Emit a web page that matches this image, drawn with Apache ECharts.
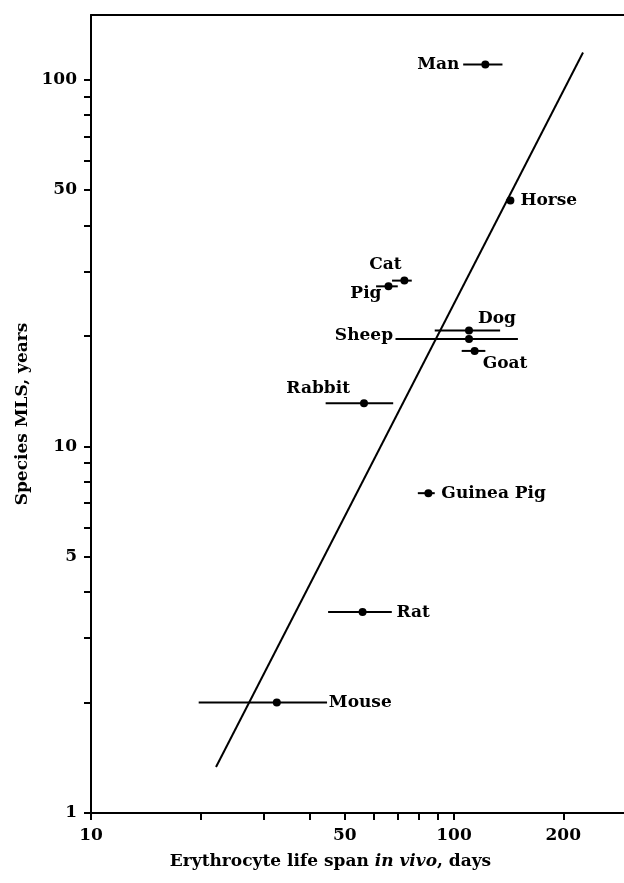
<!DOCTYPE html>
<html>
<head>
<meta charset="utf-8">
<style>
  html, body { margin: 0; padding: 0; background: #fff; overflow: hidden; }
  #chart { width: 624px; height: 883px; }
</style>
<script src="https://cdn.jsdelivr.net/npm/echarts@6/dist/echarts.min.js"></script>
</head>
<body>
<div id="chart"></div>
<script>
// species and their values
const species = ["Man", "Horse", "Cat", "Pig", "Dog", "Sheep", "Goat", "Rabbit", "Guinea Pig", "Rat", "Mouse"];
const lifespanDays = [122, 143, 73, 66, 110, 110, 114, 56.5, 85, 56, 32.5];
const lifespanLow = [106, 139, 67.5, 61, 88.5, 69, 105, 44.3, 79.5, 45, 19.8];
const lifespanHigh = [136, 146, 76.5, 70, 134, 150, 122, 68, 88.5, 67.4, 44.7];
const mlsYears = [110, 46.8, 28.3, 27.3, 20.7, 19.6, 18.2, 13.1, 7.45, 3.53, 2.0];

// regression line end points
const fitLine = [[22.1, 1.335], [226.7, 118.5]];

// axis ticks and labels
const xTicks = [10, 20, 30, 40, 50, 60, 70, 80, 90, 100, 200];
const xLabels = [10, 50, 100, 200];
const yTicks = [1, 2, 3, 4, 5, 6, 7, 8, 9, 10, 20, 30, 40, 50, 60, 70, 80, 90, 100];
const yLabels = [1, 5, 10, 50, 100];

const serif = "DejaVu Serif";

// where each name sits relative to its dot
const labelPos = {
  "Man": { position: "left", distance: 22, offset: [0, 0] },
  "Horse": { position: "right", distance: 6, offset: [0, 0] },
  "Cat": { position: "top", distance: 4, offset: [-19, 0] },
  "Pig": { position: "left", distance: 3, offset: [0, 7] },
  "Dog": { position: "right", distance: 5, offset: [0, -12] },
  "Sheep": { position: "left", distance: 72, offset: [0, -4] },
  "Goat": { position: "right", distance: 4, offset: [0, 13] },
  "Rabbit": { position: "left", distance: 10, offset: [0, -15] },
  "Guinea Pig": { position: "right", distance: 9, offset: [0, 0] },
  "Rat": { position: "right", distance: 30, offset: [0, 0] },
  "Mouse": { position: "right", distance: 48, offset: [0, 0] }
};

const points = species.map(function (name, i) {
  const p = labelPos[name];
  return {
    name: name,
    value: [lifespanDays[i], mlsYears[i]],
    label: {
      show: true, position: p.position, distance: p.distance, offset: p.offset,
      color: "#000", textBorderWidth: 0
    }
  };
});

const bars = species.map(function (name, i) {
  return [lifespanLow[i], lifespanHigh[i], mlsYears[i]];
});

const chart = echarts.init(document.getElementById("chart"));

// the scan is cut on the right, so the plot has no right border
chart.setOption({
  animation: false,
  backgroundColor: "#fff",
  grid: { left: 91, right: 0, top: 15, bottom: 70, show: false },
  xAxis: [
    {
      type: "log",
      logBase: 10,
      min: 10,
      max: 294,
      name: "Erythrocyte life span {i|in vivo}, days",
      nameLocation: "middle",
      nameGap: 40,
      nameTextStyle: {
        fontFamily: serif, fontSize: 17, fontWeight: "bold", color: "#000",
        padding: [0, 54, 0, 0],
        rich: { i: { fontFamily: serif, fontSize: 17, fontStyle: "italic", color: "#000" } }
      },
      axisLine: { show: true, lineStyle: { color: "#000", width: 2 } },
      axisTick: { show: true, inside: false, length: 7, customValues: xTicks, lineStyle: { color: "#000", width: 2 } },
      axisLabel: { customValues: xLabels, margin: 14, fontFamily: serif, fontSize: 17, fontWeight: "bold", color: "#000" },
      splitLine: { show: false },
      minorTick: { show: false }
    },
    {
      // top frame line only
      type: "log",
      logBase: 10,
      min: 10,
      max: 294,
      position: "top",
      axisLine: { show: true, lineStyle: { color: "#000", width: 2 } },
      axisTick: { show: false },
      axisLabel: { show: false },
      splitLine: { show: false }
    }
  ],
  yAxis: {
    type: "log",
    logBase: 10,
    min: 1,
    max: 150,
    name: "Species MLS, years",
    nameLocation: "middle",
    nameGap: 58,
    nameTextStyle: { fontFamily: serif, fontSize: 17, fontWeight: "bold", color: "#000" },
    axisLine: { show: true, lineStyle: { color: "#000", width: 2 } },
    axisTick: { show: true, inside: false, length: 7, customValues: yTicks, lineStyle: { color: "#000", width: 2 } },
    axisLabel: { customValues: yLabels, margin: 14, fontFamily: serif, fontSize: 17, fontWeight: "bold", color: "#000" },
    splitLine: { show: false }
  },
  series: [
    {
      type: "line",
      data: fitLine,
      symbol: "none",
      lineStyle: { color: "#000", width: 2 },
      z: 2
    },
    {
      type: "custom",
      data: bars,
      encode: { x: [0, 1], y: 2 },
      renderItem: function (params, api) {
        const a = api.coord([api.value(0), api.value(2)]);
        const b = api.coord([api.value(1), api.value(2)]);
        return {
          type: "line",
          shape: { x1: a[0], y1: a[1], x2: b[0], y2: b[1] },
          style: { stroke: "#000", lineWidth: 2 }
        };
      },
      z: 3
    },
    {
      type: "scatter",
      data: points,
      symbol: "circle",
      symbolSize: 8,
      itemStyle: { color: "#000", opacity: 1 },
      label: {
        formatter: "{b}",
        fontFamily: serif,
        fontSize: 17,
        fontWeight: "bold",
        color: "#000"
      },
      emphasis: { disabled: true },
      z: 4
    }
  ]
});
</script>
</body>
</html>
